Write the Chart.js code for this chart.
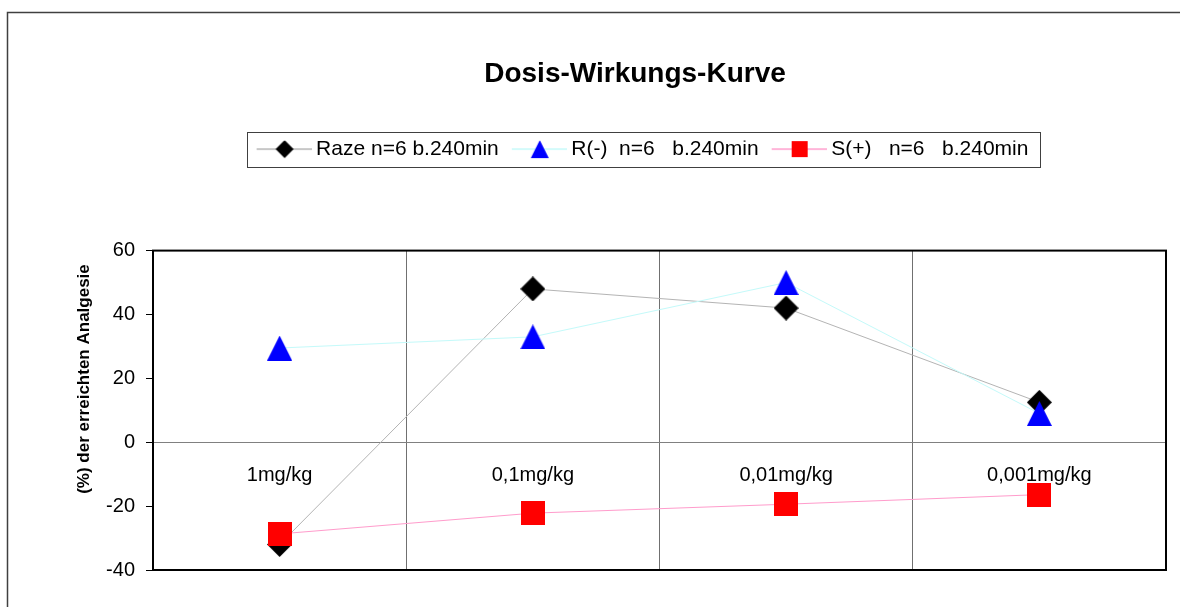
<!DOCTYPE html>
<html>
<head>
<meta charset="utf-8">
<title>Dosis-Wirkungs-Kurve</title>
<script src="https://cdn.jsdelivr.net/npm/chart.js@4.4.1/dist/chart.umd.min.js"></script>
<style>
  html, body { margin: 0; padding: 0; background: #fff; }
  #wrap { width: 1180px; height: 607px; }
</style>
</head>
<body>
<div id="wrap"><canvas id="doseChart" width="1180" height="607"></canvas></div>
<script>
// ─── Data ─────────────────────────────────────────────────────
const doses        = ['1mg/kg', '0,1mg/kg', '0,01mg/kg', '0,001mg/kg'];
const razeValues   = [-32, 48, 42, 12.5];
const rMinusValues = [29.5, 33, 50, 9];
const sPlusValues  = [-28.7, -22.2, -19.4, -16.4];
const seriesNames  = ['Raze n=6 b.240min', 'R(-)  n=6   b.240min', 'S(+)   n=6   b.240min'];
const yMin = -40, yMax = 60, yStep = 20;

const FONT = "'Liberation Sans', Arial, sans-serif";
Chart.defaults.font.family = FONT;
Chart.defaults.color = '#000';

// ─── Excel-like markers (bounding box centred on the point) ───
function marker(shape, size, color) {
  const c = document.createElement('canvas');
  c.width = size; c.height = size;
  const g = c.getContext('2d');
  g.fillStyle = color;
  g.beginPath();
  if (shape === 'diamond') {
    g.moveTo(size / 2, 0); g.lineTo(size, size / 2); g.lineTo(size / 2, size); g.lineTo(0, size / 2);
  } else if (shape === 'triangle') {
    g.moveTo(size / 2, 0); g.lineTo(size, size); g.lineTo(0, size);
  } else {
    g.rect(0, 0, size, size);
  }
  g.closePath();
  g.fill();
  return c;
}

// legend sample: 55px line with the marker on it, sitting at the right
// end of a wider transparent canvas (moves the sample nearer the text)
const SWATCH_W = 76, SAMPLE_W = 55, SAMPLE_SHIFT = 15;
function swatch(shape, size, color, lineColor) {
  const c = document.createElement('canvas');
  c.width = SWATCH_W; c.height = 22;
  const g = c.getContext('2d');
  const x0 = SWATCH_W - SAMPLE_W;
  g.strokeStyle = lineColor; g.lineWidth = 1.5;
  g.beginPath(); g.moveTo(x0, 11); g.lineTo(SWATCH_W, 11); g.stroke();
  g.drawImage(marker(shape, size, color), x0 + Math.round((SAMPLE_W - size) / 2), Math.round((22 - size) / 2));
  return c;
}

const lineColors = ['#b4b4b4', '#c4fafa', '#ff9ccc'];
const swatches = [
  swatch('diamond', 18, '#000000', lineColors[0]),
  swatch('triangle', 18, '#0000ff', lineColors[1]),
  swatch('square', 16, '#ff0000', lineColors[2]),
];

// ─── Frames, legend box and y-axis title ──────────────────────
const decorations = {
  id: 'decorations',
  beforeDraw(chart) {
    const ctx = chart.ctx;
    ctx.save();
    ctx.fillStyle = '#fff';
    ctx.fillRect(0, 0, chart.width, chart.height);
    ctx.strokeStyle = '#404040';
    ctx.lineWidth = 1.5;
    ctx.strokeRect(7.5, 12.5, 1300, 800);
    ctx.restore();
  },
  beforeDatasetsDraw(chart) {
    const {ctx, chartArea: a} = chart;
    ctx.save();
    ctx.strokeStyle = '#000';
    ctx.lineWidth = 2;
    ctx.strokeRect(a.left, a.top, a.right - a.left, a.bottom - a.top);
    ctx.restore();
  },
  afterDraw(chart) {
    const ctx = chart.ctx;
    const hb = chart.legend.legendHitBoxes;
    ctx.save();
    if (hb && hb.length) {
      const first = hb[0], last = hb[hb.length - 1];
      const midY = first.top + first.height / 2;
      const x0 = Math.round(first.left + SAMPLE_SHIFT - 10) + 0.5;
      const x1 = Math.round(last.left + last.width + 12) + 0.5;
      ctx.strokeStyle = '#404040';
      ctx.lineWidth = 1;
      ctx.strokeRect(x0, Math.round(midY - 17.5) + 0.5, x1 - x0, 35);
    }
    ctx.translate(84, 379);
    ctx.rotate(-Math.PI / 2);
    ctx.font = 'bold 17px ' + FONT;
    ctx.fillStyle = '#000';
    ctx.textAlign = 'center';
    ctx.textBaseline = 'middle';
    ctx.fillText('(%) der erreichten Analgesie', 0, 0);
    ctx.restore();
  },
};

// ─── Chart ────────────────────────────────────────────────────
new Chart(document.getElementById('doseChart').getContext('2d'), {
  type: 'line',
  data: {
    labels: doses,
    datasets: [
      {
        label: seriesNames[0], data: razeValues, order: 3,
        borderColor: lineColors[0], borderWidth: 1, tension: 0,
        pointStyle: marker('diamond', 25, '#000000'), pointRadius: 12, pointHoverRadius: 12,
      },
      {
        label: seriesNames[1], data: rMinusValues, order: 2,
        borderColor: lineColors[1], borderWidth: 1, tension: 0,
        pointStyle: marker('triangle', 25, '#0000ff'), pointRadius: 12, pointHoverRadius: 12,
      },
      {
        label: seriesNames[2], data: sPlusValues, order: 1,
        borderColor: lineColors[2], borderWidth: 1, tension: 0,
        pointStyle: marker('square', 24, '#ff0000'), pointRadius: 12, pointHoverRadius: 12,
      },
    ],
  },
  options: {
    responsive: false,
    animation: false,
    devicePixelRatio: 1,
    layout: { padding: { top: 30, left: 104, right: 14, bottom: 37 } },
    plugins: {
      tooltip: { enabled: false },
      title: {
        display: true,
        text: 'Dosis-Wirkungs-Kurve',
        font: { size: 28, weight: 'bold' },
        color: '#000',
        padding: { top: 27, bottom: 50 },
      },
      legend: {
        position: 'top',
        labels: {
          usePointStyle: true,
          pointStyleWidth: 64,
          padding: -2,
          font: { size: 21 },
          color: '#000',
          sort: (a, b) => a.datasetIndex - b.datasetIndex,
          generateLabels: chart => Chart.defaults.plugins.legend.labels.generateLabels(chart)
            .map(item => Object.assign(item, { pointStyle: swatches[item.datasetIndex] })),
        },
      },
      // empty spacer between legend and plot area
      subtitle: {
        display: true, text: '', weight: 500,
        font: { size: 10 }, padding: { top: 0, bottom: 69 },
      },
    },
    scales: {
      x: {
        type: 'category',
        position: { y: 0 },
        offset: true,
        grid: { offset: true, color: '#707070', lineWidth: 1, drawTicks: true, tickLength: 7 },
        border: { color: '#808080', width: 1 },
        ticks: { font: { size: 20 }, color: '#000', padding: 14, maxRotation: 0, autoSkip: false },
      },
      y: {
        min: yMin, max: yMax,
        grid: { drawOnChartArea: false, drawTicks: true, tickLength: 7, color: '#000' },
        border: { display: false },
        ticks: { stepSize: yStep, font: { size: 20 }, color: '#000', padding: 11 },
        afterFit: scale => { scale.width = 49; },
      },
    },
  },
  plugins: [decorations],
});
</script>
</body>
</html>
